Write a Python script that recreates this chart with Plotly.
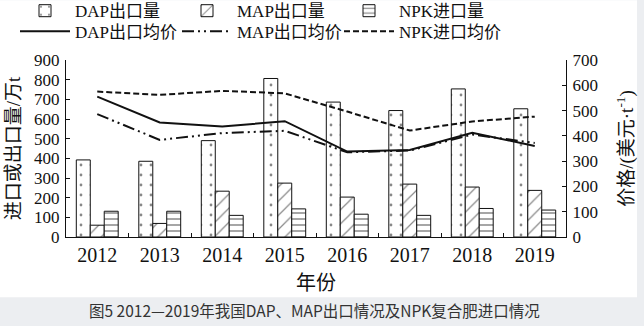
import plotly.graph_objects as go

years = ["2012", "2013", "2014", "2015", "2016", "2017", "2018", "2019"]
dap_export = [392, 385, 490, 806, 686, 643, 753, 652]
map_export = [60, 69, 233, 274, 203, 269, 254, 237]
npk_import = [131, 131, 110, 143, 116, 110, 145, 137]
dap_price = [555, 453, 437, 458, 338, 344, 412, 360]
map_price = [486, 384, 411, 420, 335, 342, 405, 372]
npk_price = [575, 562, 578, 568, 496, 421, 457, 476]

left_title = "进口或出口量/万t"
right_title = "价格/(美元·t<sup>-1</sup>)"
x_title = "年份"
caption = "图5 2012—2019年我国DAP、MAP出口情况及NPK复合肥进口情况"

SERIF = "Liberation Serif, Times New Roman, Noto Sans CJK SC, serif"
INK = "#111111"

fig = go.Figure()

bar_line = dict(color=INK, width=1)
fig.add_trace(go.Bar(
    name="DAP出口量", x=years, y=dap_export, legend="legend",
    marker=dict(color="white", line=bar_line,
                pattern=dict(shape=".", size=10, solidity=0.06, fgcolor=INK, bgcolor="white")),
))
fig.add_trace(go.Bar(
    name="MAP出口量", x=years, y=map_export, legend="legend",
    marker=dict(color="white", line=bar_line,
                pattern=dict(shape="/", size=10, solidity=0.12, fgcolor=INK, bgcolor="white")),
))
fig.add_trace(go.Bar(
    name="NPK进口量", x=years, y=npk_import, legend="legend",
    marker=dict(color="white", line=bar_line,
                pattern=dict(shape="-", size=6, solidity=0.25, fgcolor=INK, bgcolor="white")),
))

fig.add_trace(go.Scatter(
    name="DAP出口均价", x=years, y=dap_price, yaxis="y2", mode="lines", legend="legend2",
    line=dict(color=INK, width=2),
))
fig.add_trace(go.Scatter(
    name="MAP出口均价", x=years, y=map_price, yaxis="y2", mode="lines", legend="legend2",
    line=dict(color=INK, width=2, dash="12px,4px,2px,4px,2px,4px"),
))
fig.add_trace(go.Scatter(
    name="NPK进口均价", x=years, y=npk_price, yaxis="y2", mode="lines", legend="legend2",
    line=dict(color=INK, width=2, dash="6px,3px"),
))

# plot area geometry helpers (pixels -> paper)
L, R, T, B = 66, 78, 60, 88.5
W, H = 644, 326
PW, PH = W - L - R, H - T - B
def px(x):
    return (x - L) / PW
def py(y):
    return (H - B - y) / PH

legend_common = dict(
    orientation="h",
    xanchor="left", yanchor="middle",
    entrywidth=97, entrywidthmode="pixels",
    font=dict(family=SERIF, size=17, color=INK),
    bgcolor="rgba(0,0,0,0)",
    traceorder="normal",
    itemwidth=50,
)

fig.update_layout(
    width=W, height=H,
    margin=dict(l=L, r=R, t=T, b=B, autoexpand=False),
    paper_bgcolor="#eceef1",
    plot_bgcolor="rgba(0,0,0,0)",
    font=dict(family=SERIF, size=20, color=INK),
    barmode="group",
    bargap=0.33,
    bargroupgap=0,
    showlegend=True,
    legend=dict(legend_common, x=px(15), y=py(11)),
    legend2=dict(legend_common, x=px(15), y=py(31.5)),
    xaxis=dict(
        type="category",
        range=[-0.5, 7.5],
        showline=True, linecolor=INK, linewidth=1,
        ticks="inside", ticklen=4, tickcolor=INK, tickson="boundaries",
        showgrid=False,
        tickfont=dict(family=SERIF, size=20, color=INK),
        title=dict(text=x_title, standoff=10, font=dict(family=SERIF, size=20, color=INK)),
    ),
    yaxis=dict(
        range=[0, 900], dtick=100,
        showline=True, linecolor=INK, linewidth=1,
        ticks="inside", ticklen=4, tickcolor=INK,
        showgrid=False, zeroline=False,
        tickfont=dict(family=SERIF, size=17, color=INK),
        ticklabelstandoff=2,
        title=dict(text=left_title, standoff=8, font=dict(family=SERIF, size=19, color=INK)),
    ),
    yaxis2=dict(
        overlaying="y", side="right",
        range=[0, 700], dtick=100,
        showline=True, linecolor=INK, linewidth=1,
        ticks="inside", ticklen=4, tickcolor=INK,
        showgrid=False, zeroline=False,
        tickfont=dict(family=SERIF, size=17, color=INK),
        ticklabelstandoff=2,
        title=dict(text=right_title, standoff=22, font=dict(family=SERIF, size=19, color=INK)),
    ),
    shapes=[dict(
        type="rect", xref="paper", yref="paper", layer="below",
        x0=px(0), x1=px(637), y0=py(298), y1=py(0),
        fillcolor="white", line=dict(width=0),
    )],
    annotations=[dict(
        text=caption, xref="paper", yref="paper",
        x=px(314), y=py(311), xanchor="center", yanchor="middle",
        showarrow=False,
        font=dict(family="Noto Sans CJK SC, Noto Sans, sans-serif", size=15.5, color="#333333"),
    )],
)

fig.write_html("out.html")
